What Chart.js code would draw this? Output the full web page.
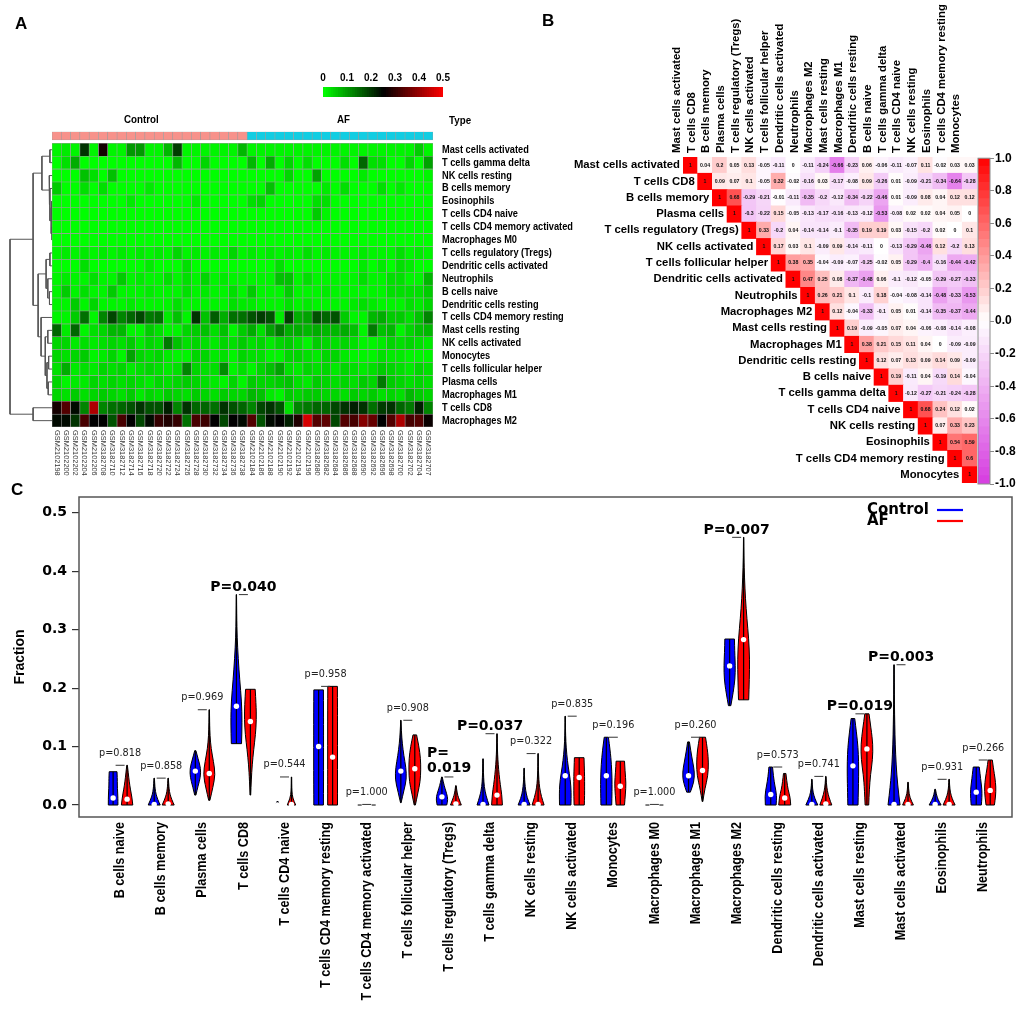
<!DOCTYPE html>
<html><head><meta charset="utf-8">
<script src="https://cdn.jsdelivr.net/npm/chart.js@4.4.0/dist/chart.umd.min.js"></script>
<style>
html,body{margin:0;padding:0;background:#fff;}
#wrap{position:relative;width:1021px;height:1013px;overflow:hidden;background:#fff;}
canvas{position:absolute;}
.lbl{position:absolute;font-weight:bold;color:#000;white-space:nowrap;line-height:1;font-family:'Liberation Sans',Arial,sans-serif;}
.cond{transform:scaleX(0.85);transform-origin:left center;}
</style></head><body>
<div id="wrap">
<canvas id="cDendro" width="60" height="520" style="left:0;top:0"></canvas>
<canvas id="cHeat" width="600" height="520" style="left:0;top:0"></canvas>
<canvas id="cLegA" width="170" height="45" style="left:300px;top:60px"></canvas>
<canvas id="cCorr" width="481" height="500" style="left:540px;top:0"></canvas>
<canvas id="cBar" width="61" height="345" style="left:960px;top:150px"></canvas>
<canvas id="cViolin" width="1021" height="533" style="left:0;top:480px"></canvas>
<div class="lbl" style="left:15px;top:15px;font-size:17px">A</div>
<div class="lbl" style="left:542px;top:12px;font-size:17px">B</div>
<div class="lbl" style="left:11px;top:481px;font-size:17px">C</div>
<div class="lbl cond" style="left:124px;top:114px;font-size:11.5px">Control</div>
<div class="lbl cond" style="left:337px;top:114px;font-size:11.5px">AF</div>
<div class="lbl cond" style="left:449px;top:115px;font-size:11.5px">Type</div>
</div>
<script>
const ARIAL = "'Liberation Sans', Arial, sans-serif";
const VERD = "'DejaVu Sans', Verdana, sans-serif";
const COND = 0.84; // horizontal condensing of the narrow bold labels
Chart.defaults.font.family = ARIAL;
Chart.defaults.color = '#000';

// ---------------- Panel A data ----------------
const controlSamples = ['GSM2102198','GSM2102200','GSM2102202','GSM2102204','GSM2102206','GSM3182708','GSM3182710','GSM3182712','GSM3182714','GSM3182716','GSM3182718','GSM3182720','GSM3182722','GSM3182724','GSM3182726','GSM3182728','GSM3182730','GSM3182732','GSM3182734','GSM3182736','GSM3182738'];
const afSamples = ['GSM2102184','GSM2102186','GSM2102188','GSM2102190','GSM2102192','GSM2102194','GSM2102196','GSM3182680','GSM3182682','GSM3182684','GSM3182686','GSM3182688','GSM3182690','GSM3182692','GSM3182696','GSM3182698','GSM3182700','GSM3182702','GSM3182704','GSM3182707'];
const heatRows = ['Mast cells activated','T cells gamma delta','NK cells resting','B cells memory','Eosinophils','T cells CD4 naive','T cells CD4 memory activated','Macrophages M0','T cells regulatory (Tregs)','Dendritic cells activated','Neutrophils','B cells naive','Dendritic cells resting','T cells CD4 memory resting','Mast cells resting','NK cells activated','Monocytes','T cells follicular helper','Plasma cells','Macrophages M1','T cells CD8','Macrophages M2'];
const legendTicksA = [0, 0.1, 0.2, 0.3, 0.4, 0.5];

const hmMastAct  = [.01,.02,.01,.2,.01,.27,.01,.01,.1,.1, .01,.01,.07,.19,.01,.01,.01,.01,.01,.01, .07,.01,.01,.01,.01,.01,.01,.01,.01,.01, .01,.01,.01,.01,.01,.01,.01,.01,.01,.05, .01];
const hmTgd      = [0,.03,.08,0,0,0,0,0,0,0, 0,0,0,.07,0,0,.04,0,0,0, 0,.07,0,.08,0,.04,0,.03,0,0, 0,.03,0,.15,.03,.03,0,0,.04,0, .09];
const hmNKrest   = [0,0,0,.06,.03,0,.06,0,0,0, 0,0,0,0,0,0,0,0,0,0, 0,0,0,0,0,.04,0,0,.09,0, 0,0,0,.02,0,0,0,0,0,0, .01];
const hmBmem     = [.05,0,0,.03,0,.03,0,0,0,0, .02,0,0,0,0,0,0,0,0,0, 0,0,0,.06,0,0,0,0,0,.02, 0,.03,0,0,0,.03,0,.02,0,0, 0];
const hmEos      = [0,0,0,0,0,0,0,0,.02,0, 0,0,0,0,0,.02,0,0,0,0, 0,.03,.04,0,0,0,0,0,.03,.03, 0,0,0,0,0,0,0,0,0,0, 0];
const hmCD4naive = [0,0,0,0,0,0,0,0,0,0, 0,0,0,0,0,0,0,0,0,0, 0,0,0,0,0,0,0,0,.05,.01, 0,0,0,0,0,0,0,0,0,0, 0];
const hmCD4act   = [0,0,0,0,0,0,0,0,0,0, 0,0,0,0,0,0,0,0,0,0, 0,0,0,0,0,0,0,0,0,0, 0,0,0,0,0,0,0,0,0,0, 0];
const hmM0       = [0,0,0,0,0,0,0,0,0,0, 0,0,0,0,0,0,0,0,0,0, 0,0,0,0,0,0,0,0,0,0, 0,0,0,0,0,0,0,0,0,0, 0];
const hmTreg     = [.01,.02,.01,.02,.01,.02,.01,.02,.01,.02, .01,.02,.01,.04,.01,.02,.01,.02,.01,.04, .01,.02,.01,.02,.01,.02,.01,.03,.01,.02, .01,.01,.01,.02,.01,.01,.01,.03,.01,.02, .01];
const hmDCact    = [0,0,0,.03,0,0,0,0,0,0, .02,0,0,0,.03,0,0,0,0,0, 0,0,0,0,.03,0,0,0,0,0, 0,0,0,.02,0,.02,0,.03,.02,0, 0];
const hmNeut     = [.01,.02,.01,.01,.03,.01,.01,.05,.01,.02, .01,.01,.03,.01,.03,.01,.04,.01,.02,.01, .01,.01,.01,.01,.06,.06,.01,.03,.01,.01, .01,.01,.01,.03,.01,.01,.03,.03,.01,.01, .07];
const hmBnaive   = [.01,.05,.01,.03,.01,.01,.05,.01,.01,.01, .02,.01,.01,.01,.03,.01,.02,.01,.01,.03, .01,.05,.01,.01,.01,.05,.01,.01,.01,.02, .01,.01,.01,.01,.01,.01,.03,.03,.03,.03, .05];
const hmDCrest   = [.01,.01,.05,.01,.04,.01,.01,.01,.02,.01, .01,.01,.01,.03,.01,.01,.01,.01,.01,.03, .02,.02,.01,.01,.01,.03,.01,.02,.01,.01, .01,.01,.02,.03,.02,.01,.01,.01,.03,.02, .04];
const hmCD4mem   = [.01,.01,.05,.14,.01,.12,.18,.12,.15,.18, .13,.14,.02,.06,.01,.2,.06,.16,.08,.14, .14,.17,.19,.17,.02,.19,.08,.09,.17,.15, .17,.05,.01,.01,.07,.08,.05,.05,.03,.06, .12];
const hmMastRest = [.15,.02,.15,.01,.03,.04,.07,.07,.01,.01, .05,.03,.01,.01,.04,.05,.06,.03,.06,.01, .05,.08,.03,.09,.13,.08,.08,.07,.08,.07, .07,.08,.06,.01,.13,.06,.07,.01,.04,.06, .07];
const hmNKact    = [.04,.04,.02,.03,.02,.03,.04,.03,.05,.02, .04,.03,.13,.06,.03,.04,.03,.02,.04,.03, .05,.03,.04,.02,.04,.05,.03,.01,.05,.04, .03,.04,.03,.01,.01,.02,.04,.03,.04,.03, .02];
const hmMono     = [.04,.03,.04,.05,.01,.02,.04,.01,.09,.04, .03,.04,.02,.01,.01,.04,.04,.02,.03,.01, .04,.03,.03,.01,.01,.04,.04,.03,.02,.04, .04,.02,.01,.01,.01,.03,.02,.02,.01,.01, .01];
const hmTfh      = [.03,.08,.02,.03,.02,.04,.03,.04,.02,.03, .04,.03,.02,.03,.12,.04,.03,.03,.11,.01, .03,.01,.04,.06,.09,.03,.02,.04,.03,.04, .02,.04,.03,.02,.03,.05,.04,.03,.02,.04, .03];
const hmPlasma   = [.04,.01,.02,.02,.04,.03,.04,.03,.04,.03, .02,.04,.03,.04,.05,.04,.03,.02,.01,.04, .01,.05,.04,.04,.05,.06,.03,.02,.05,.04, .03,.04,.03,.05,.04,.13,.05,.04,.03,.04, .03];
const hmM1       = [.04,.03,.05,.03,.04,.05,.04,.03,.05,.02, .04,.03,.05,.04,.03,.05,.04,.03,.05,.04, .04,.07,.06,.02,.01,.05,.04,.05,.05,.04, .04,.03,.05,.04,.05,.03,.04,.03,.07,.05, .04];
const hmCD8      = [.27,.33,.24,.12,.42,.12,.14,.15,.17,.2, .17,.17,.22,.12,.2,.15,.15,.14,.2,.17, .15,.12,.18,.2,.17,.03,.12,.13,.15,.15, .18,.2,.22,.2,.14,.19,.2,.15,.13,.22, .12];
const hmM2       = [.24,.24,.2,.32,.25,.25,.17,.32,.25,.18, .24,.3,.28,.3,.14,.32,.31,.25,.18,.25, .24,.33,.17,.24,.25,.22,.28,.46,.33,.34, .18,.33,.32,.38,.35,.25,.33,.42,.32,.33, .26];

// dendrogram merges (hclust style: negative = row index 1-based, positive = merge index; third = height 0..1)
const dendroMerges = [
 [-1,-2,0.05],[-5,-6,0.01],[-7,-8,0.0],[2,3,0.02],[-4,4,0.05],[-3,5,0.07],[1,6,0.24],
 [-9,-10,0.05],[-12,-13,0.06],[-11,9,0.1],[8,10,0.14],
 [-15,-16,0.1],[-17,-18,0.08],[-19,-20,0.09],[13,14,0.12],[12,15,0.16],[-14,16,0.26],
 [11,17,0.33],[7,18,0.45],[-21,-22,0.45],[19,20,1.0]
];

// ---------------- Panel B data ----------------
const corrCells = ['Mast cells activated','T cells CD8','B cells memory','Plasma cells','T cells regulatory (Tregs)','NK cells activated','T cells follicular helper','Dendritic cells activated','Neutrophils','Macrophages M2','Mast cells resting','Macrophages M1','Dendritic cells resting','B cells naive','T cells gamma delta','T cells CD4 naive','NK cells resting','Eosinophils','T cells CD4 memory resting','Monocytes'];
const cMastAct  = [1,0.04,0.2,0.05,0.13,-0.05,-0.11,0,-0.11,-0.24,-0.66,-0.23,0.06,-0.06,-0.11,-0.07,0.11,-0.02,0.03,0.03];
const cCD8      = [1,0.09,0.07,0.1,-0.05,0.32,-0.02,-0.16,0.03,-0.17,-0.08,0.09,-0.26,0.01,-0.09,-0.21,-0.34,-0.64,-0.28];
const cBmem     = [1,0.68,-0.29,-0.21,-0.01,-0.11,-0.35,-0.2,-0.12,-0.34,-0.22,-0.46,0.01,-0.09,0.08,0.04,0.12,0.12];
const cPlasma   = [1,-0.3,-0.22,0.15,-0.05,-0.13,-0.17,-0.16,-0.13,-0.12,-0.53,-0.08,0.02,0.02,0.04,0.05,0];
const cTreg     = [1,0.33,-0.2,0.04,-0.14,-0.14,-0.1,-0.35,0.19,0.19,0.03,-0.15,-0.2,0.02,0,0.1];
const cNKact    = [1,0.17,0.03,0.1,-0.09,0.09,-0.14,-0.11,0,-0.13,-0.29,-0.46,0.12,-0.2,0.13];
const cTfh      = [1,0.38,0.35,-0.04,-0.09,-0.07,-0.25,-0.02,0.05,-0.29,-0.4,-0.16,-0.44,-0.42];
const cDCact    = [1,0.47,0.25,0.08,-0.37,-0.48,0.06,-0.1,-0.12,-0.05,-0.29,-0.27,-0.33];
const cNeut     = [1,0.26,0.21,0.1,-0.1,0.18,-0.04,-0.08,-0.14,-0.48,-0.33,-0.53];
const cM2       = [1,0.12,-0.04,-0.33,-0.1,0.05,0.01,-0.14,-0.35,-0.37,-0.44];
const cMastRest = [1,0.19,-0.09,-0.05,0.07,0.04,-0.06,-0.08,-0.14,-0.08];
const cM1       = [1,0.38,0.21,0.15,0.11,0.04,0,-0.09,-0.09];
const cDCrest   = [1,0.12,0.07,0.13,0.09,0.14,0.09,-0.09];
const cBnaive   = [1,0.19,-0.11,0.04,-0.19,0.14,-0.04];
const cTgd      = [1,-0.12,-0.27,-0.21,-0.24,-0.28];
const cCD4naive = [1,0.68,0.24,0.12,0.02];
const cNKrest   = [1,0.07,0.33,0.23];
const cEos      = [1,0.54,0.59];
const cCD4mem   = [1,0.6];
const cMono     = [1];
const corrBarTicks = [-1,-0.8,-0.6,-0.4,-0.2,0,0.2,0.4,0.6,0.8,1];

// ---------------- Panel C data ----------------
const cells = ['B cells naive','B cells memory','Plasma cells','T cells CD8','T cells CD4 naive','T cells CD4 memory resting','T cells CD4 memory activated','T cells follicular helper','T cells regulatory (Tregs)','T cells gamma delta','NK cells resting','NK cells activated','Monocytes','Macrophages M0','Macrophages M1','Macrophages M2','Dendritic cells resting','Dendritic cells activated','Mast cells resting','Mast cells activated','Eosinophils','Neutrophils'];
const ctrlLo  = [0,0,0.017,0.105,0,0,0,0.004,0,0,0,0,0,0,0.022,0.17,0,0,0,0,0,0];
const ctrlHi  = [0.057,0.046,0.093,0.36,0.006,0.197,0.001,0.145,0.048,0.079,0.063,0.152,0.116,0.001,0.108,0.284,0.065,0.044,0.148,0.24,0.027,0.065];
const ctrlMed = [0.012,0.001,0.058,0.169,0,0.1,0,0.058,0.014,0.001,0.001,0.05,0.05,0,0.05,0.238,0.018,0.001,0.067,0.001,0.001,0.022];
const afLo    = [0,0,0.008,0.017,0,0,0,0,0,0,0,0,0,0,0.006,0.18,0,0,0,0,0,0];
const afHi    = [0.068,0.046,0.163,0.198,0.048,0.203,0.001,0.12,0.033,0.122,0.088,0.081,0.075,0.001,0.116,0.458,0.054,0.049,0.156,0.039,0.044,0.077];
const afMed   = [0.010,0.002,0.054,0.143,0.001,0.082,0,0.062,0.002,0.017,0.001,0.047,0.032,0,0.059,0.283,0.012,0.002,0.096,0.001,0.001,0.025];
const ctrlShape = [
 [0.8,0.8,0.75,0.7,0.7,0.65],[1.0,0.6,0.3,0.15,0.08,0.03],[0.1,0.45,0.85,0.9,0.5,0.1],[0.85,0.95,0.85,0.55,0.3,0.12,0.05,0.02],
 [0.3,0.2,0.1],[0.8,0.82,0.82,0.82,0.82,0.8],[0.3],[0.05,0.5,0.95,0.85,0.5,0.25,0.1,0.02],
 [0.8,1.0,0.8,0.5,0.25,0.05],[1.0,0.5,0.2,0.1,0.05,0.03],[1.0,0.5,0.25,0.12,0.05,0.03],[0.95,1.0,0.85,0.5,0.25,0.1,0.04,0.02],
 [0.9,0.95,0.95,0.85,0.65,0.35],[0.3],[0.3,0.9,1.0,0.7,0.4,0.15],[0.2,0.6,0.9,0.95,0.85,0.8],
 [0.9,1.0,0.7,0.45,0.3],[1.0,0.5,0.2,0.08,0.03],[0.85,0.9,0.95,0.95,0.85,0.6,0.3],[1.0,0.6,0.35,0.2,0.12,0.07,0.04,0.02],
 [1.0,0.5,0.2,0.05],[0.85,0.95,0.95,0.8,0.65,0.5]
];
const afShape = [
 [0.95,0.8,0.55,0.35,0.2,0.05],[1.0,0.6,0.3,0.15,0.08,0.03],[0.1,0.6,1.0,0.7,0.3,0.12,0.05,0.03],[0.05,0.15,0.3,0.55,0.85,1.0,0.95,0.8],
 [0.7,0.2,0.06,0.03,0.02],[0.82,0.82,0.82,0.82,0.82,0.8],[0.3],[0.1,0.5,0.9,1.0,0.95,0.7,0.3],
 [0.9,0.6,0.3,0.15,0.05],[0.9,0.8,0.55,0.35,0.2,0.1,0.05,0.02],[1.0,0.55,0.25,0.12,0.06,0.03,0.02],[0.85,0.9,0.9,0.9,0.85,0.8],
 [0.7,0.85,0.95,0.8,0.7],[0.3],[0.05,0.4,0.9,1.0,0.85,0.5],[0.85,0.95,1.0,0.85,0.55,0.3,0.15,0.05,0.02],
 [1.0,0.9,0.55,0.35,0.2],[1.0,0.55,0.25,0.1,0.03],[0.3,0.4,0.6,0.95,1.0,0.7,0.35],[0.9,0.3,0.1,0.03],
 [1.0,0.5,0.2,0.08,0.03],[0.7,0.9,0.95,0.8,0.55,0.35]
];
const pText = ['p=0.818','p=0.858','p=0.969','P=0.040','p=0.544','p=0.958','p=1.000','p=0.908','P=\n0.019','P=0.037','p=0.322','p=0.835','p=0.196','p=1.000','p=0.260','P=0.007','p=0.573','p=0.741','P=0.019','P=0.003','p=0.931','p=0.266'];
const yTicksC = [0, 0.1, 0.2, 0.3, 0.4, 0.5];

// ---------------- helpers ----------------
function rampA(v){
  const t = Math.max(0, Math.min(1, v / 0.5));
  if (t <= 0.5) return `rgb(0,${Math.round(255*(1-2*t))},0)`;
  return `rgb(${Math.round(255*(2*t-1))},0,0)`;
}
function rampB(v){
  if (v >= 0) { const g = Math.round(255*(1-v)); return `rgb(255,${g},${g})`; }
  const a = -v;
  return `rgb(${Math.round(255-41*a)},${Math.round(255-195*a)},${Math.round(255-31*a)})`;
}
function condText(ctx, text, x, y, rot) {
  ctx.save(); ctx.translate(x, y); if (rot) ctx.rotate(rot); ctx.scale(COND, 1); ctx.fillText(text, 0, 0); ctx.restore();
}
const noTip = {legend:{display:false}, tooltip:{enabled:false}};

// ---------------- Panel A: heatmap ----------------
const samples = controlSamples.concat(afSamples);
const heatVals = [hmMastAct,hmTgd,hmNKrest,hmBmem,hmEos,hmCD4naive,hmCD4act,hmM0,hmTreg,hmDCact,hmNeut,hmBnaive,hmDCrest,hmCD4mem,hmMastRest,hmNKact,hmMono,hmTfh,hmPlasma,hmM1,hmCD8,hmM2];
const NROW = heatRows.length;
const GAP = 0.26, TYPEH = 0.64;
const heatDatasets = [];
for (let r = NROW - 1; r >= 0; r--) {
  heatDatasets.push({data: samples.map(() => 1), backgroundColor: heatVals[r].map(rampA),
    borderColor: '#9c9c9c', borderWidth: 0.6, borderSkipped: false, barPercentage: 1, categoryPercentage: 1, stack: 's'});
}
heatDatasets.push({data: samples.map(() => GAP), backgroundColor: 'rgba(0,0,0,0)', borderWidth: 0, barPercentage: 1, categoryPercentage: 1, stack: 's'});
heatDatasets.push({data: samples.map(() => TYPEH), backgroundColor: samples.map(s => controlSamples.includes(s) ? '#F7928B' : '#12CDE2'),
  borderColor: '#9c9c9c', borderWidth: 0.6, borderSkipped: false, barPercentage: 1, categoryPercentage: 1, stack: 's'});

const heatLabelPlugin = {
  id: 'heatLabels',
  afterDraw(chart) {
    const {ctx, chartArea} = chart; const xs = chart.scales.x, ys = chart.scales.y;
    ctx.save();
    ctx.font = '7.4px ' + ARIAL; ctx.fillStyle = '#333'; ctx.textAlign = 'left'; ctx.textBaseline = 'middle';
    samples.forEach((s, i) => {
      ctx.save(); ctx.translate(xs.getPixelForValue(i), chartArea.bottom + 3); ctx.rotate(Math.PI / 2);
      ctx.fillText(s, 0, 0); ctx.restore();
    });
    ctx.font = 'bold 11px ' + ARIAL; ctx.fillStyle = '#000';
    heatRows.forEach((n, i) => condText(ctx, n, chartArea.right + 9, ys.getPixelForValue(NROW - 0.5 - i), 0));
    ctx.restore();
  }
};
new Chart(document.getElementById('cHeat'), {
  type: 'bar',
  data: {labels: samples, datasets: heatDatasets},
  options: {
    responsive: false, animation: false, plugins: noTip,
    layout: {padding: {left: 52, top: 131.7, right: 167, bottom: 92.9}},
    scales: {
      x: {stacked: true, display: false},
      y: {stacked: true, min: 0, max: NROW + GAP + TYPEH, display: false}
    }
  },
  plugins: [heatLabelPlugin]
});

// dendrogram
(function(){
  const pos = {};
  const nodeY = (n) => n < 0 ? (NROW - 0.5 - (-n - 1)) : pos[n].y;
  const nodeH = (n) => n < 0 ? 0 : pos[n].h;
  const ds = [];
  dendroMerges.forEach((m, k) => {
    const [a, b, h] = m;
    const ya = nodeY(a), yb = nodeY(b);
    pos[k + 1] = {y: (ya + yb) / 2, h: h};
    ds.push({data: [{x: nodeH(a), y: ya}, {x: h, y: ya}, {x: h, y: yb}, {x: nodeH(b), y: yb}],
      showLine: true, borderColor: '#555', borderWidth: 1, pointRadius: 0, fill: false, tension: 0});
  });
  new Chart(document.getElementById('cDendro'), {
    type: 'scatter', data: {datasets: ds},
    options: {responsive: false, animation: false, plugins: noTip,
      layout: {padding: {left: 10, right: 8, top: 131.7, bottom: 92.9}},
      scales: {x: {type: 'linear', min: 0, max: 1, reverse: true, display: false},
               y: {type: 'linear', min: 0, max: NROW + GAP + TYPEH, display: false}},
      clip: false}
  });
})();

// legend colour bar A
(function(){
  const ds = [];
  const N = 50;
  for (let k = 0; k < N; k++) {
    const lo = 0.5 * k / N, hi = 0.5 * (k + 1) / N;
    ds.push({data: [[lo, hi]], backgroundColor: rampA((lo + hi) / 2), borderWidth: 0, grouped: false,
      barPercentage: 1, categoryPercentage: 1, inflateAmount: 0.6});
  }
  new Chart(document.getElementById('cLegA'), {
    type: 'bar', data: {labels: ['v'], datasets: ds},
    options: {indexAxis: 'y', responsive: false, animation: false, plugins: noTip,
      layout: {padding: {left: 23, right: 27, bottom: 8, top: 0}},
      scales: {
        x: {type: 'linear', position: 'top', min: 0, max: 0.5,
          afterBuildTicks(s) { s.ticks = legendTicksA.map(v => ({value: v})); },
          afterFit(s) { s.height = 27; },
          grid: {display: false, drawTicks: false}, border: {display: false},
          ticks: {padding: 3, color: '#000', font: {family: ARIAL, weight: 'bold', size: 10}, callback: v => String(v)}},
        y: {display: false}
      }}
  });
})();

// ---------------- Panel B: correlation ----------------
const corrVals = [cMastAct,cCD8,cBmem,cPlasma,cTreg,cNKact,cTfh,cDCact,cNeut,cM2,cMastRest,cM1,cDCrest,cBnaive,cTgd,cCD4naive,cNKrest,cEos,cCD4mem,cMono];
const NC = corrCells.length;
const corrDatasets = [];
for (let r = NC - 1; r >= 0; r--) {
  corrDatasets.push({data: corrCells.map(() => 1),
    backgroundColor: corrCells.map((c, ci) => ci >= r ? rampB(corrVals[r][ci - r]) : 'rgba(0,0,0,0)'),
    borderWidth: 0, barPercentage: 1, categoryPercentage: 1, stack: 's', inflateAmount: 0.4});
}
const corrTextPlugin = {
  id: 'corrText',
  afterDatasetsDraw(chart) {
    const {ctx} = chart; const xs = chart.scales.x, ys = chart.scales.y;
    const half = (xs.getPixelForValue(1) - xs.getPixelForValue(0)) / 2;
    ctx.save();
    ctx.textAlign = 'center'; ctx.textBaseline = 'middle'; ctx.fillStyle = '#111';
    ctx.font = 'bold 5.2px ' + ARIAL;
    for (let r = 0; r < NC; r++) {
      const py = ys.getPixelForValue(NC - 0.5 - r);
      for (let c = r; c < NC; c++) ctx.fillText(String(corrVals[r][c - r]), xs.getPixelForValue(c), py);
    }
    ctx.textAlign = 'right'; ctx.fillStyle = '#000'; ctx.font = 'bold 11.3px ' + ARIAL;
    for (let r = 0; r < NC; r++) {
      ctx.fillText(corrCells[r], xs.getPixelForValue(r) - half - 3, ys.getPixelForValue(NC - 0.5 - r));
    }
    ctx.restore();
  }
};
new Chart(document.getElementById('cCorr'), {
  type: 'bar', data: {labels: corrCells, datasets: corrDatasets},
  options: {responsive: false, animation: false, plugins: noTip,
    layout: {padding: {left: 143, right: 44, top: 0, bottom: 17}},
    scales: {
      x: {stacked: true, position: 'top', grid: {display: false, drawTicks: false}, border: {display: false},
        afterFit(s) { s.height = 157; },
        ticks: {autoSkip: false, minRotation: 90, maxRotation: 90, padding: 4, color: '#000',
          font: {family: ARIAL, weight: 'bold', size: 11.3}}},
      y: {stacked: true, min: 0, max: NC, display: false}
    }},
  plugins: [corrTextPlugin]
});

// colour bar B
(function(){
  const ds = []; const N = 40;
  for (let k = 0; k < N; k++) {
    const lo = -1 + 2 * k / N, hi = -1 + 2 * (k + 1) / N;
    ds.push({data: [[lo, hi]], backgroundColor: rampB((lo + hi) / 2), borderWidth: 0, grouped: false,
      barPercentage: 1, categoryPercentage: 1, inflateAmount: 0.6});
  }
  const framePlugin = {id: 'frameB', afterDatasetsDraw(chart) {
    const {ctx, chartArea: a} = chart; ctx.save(); ctx.strokeStyle = '#8a8a8a'; ctx.lineWidth = 1;
    ctx.strokeRect(a.left, a.top, a.right - a.left, a.bottom - a.top); ctx.restore(); }};
  new Chart(document.getElementById('cBar'), {
    type: 'bar', data: {labels: ['r'], datasets: ds},
    options: {responsive: false, animation: false, plugins: noTip,
      layout: {padding: {left: 18, top: 7, bottom: 11, right: 0}},
      scales: {
        x: {display: false},
        y: {type: 'linear', min: -1, max: 1, position: 'right',
          afterBuildTicks(s) { s.ticks = corrBarTicks.map(v => ({value: v})); },
          afterFit(s) { s.width = 31; },
          grid: {drawOnChartArea: false, tickLength: 4, color: '#888'}, border: {display: false},
          ticks: {padding: 1, color: '#000', font: {family: ARIAL, weight: 'bold', size: 12},
            callback: v => (Math.abs(v) < 1e-9 ? 0 : v).toFixed(1)}}
      }},
    plugins: [framePlugin]
  });
})();

// ---------------- Panel C: violins ----------------
const OFF = 0.17, MAXW = 12;
function smoothSide(ctx, P) {
  for (let k = 1; k < P.length - 1; k++) {
    const mx = (P[k][0] + P[k + 1][0]) / 2, my = (P[k][1] + P[k + 1][1]) / 2;
    ctx.quadraticCurveTo(P[k][0], P[k][1], mx, my);
  }
  ctx.lineTo(P[P.length - 1][0], P[P.length - 1][1]);
}
function drawViolin(ctx, ys, cx, lo, hi, shape, fill) {
  const yLo = ys.getPixelForValue(lo), yHi = ys.getPixelForValue(hi);
  ctx.strokeStyle = '#000'; ctx.lineWidth = 1;
  if (yLo - yHi < 1.5) {
    ctx.beginPath(); ctx.moveTo(cx - 2, yLo); ctx.lineTo(cx + 2, yLo); ctx.stroke(); return;
  }
  const n = shape.length;
  const pts = shape.map((w, k) => ({y: yLo + (yHi - yLo) * (n === 1 ? 0 : k / (n - 1)), h: w * MAXW / 2}));
  ctx.beginPath();
  ctx.moveTo(cx + pts[0].h, pts[0].y);
  ctx.lineTo(cx - pts[0].h, pts[0].y);
  smoothSide(ctx, pts.map(p => [cx - p.h, p.y]));
  ctx.lineTo(cx + pts[n - 1].h, pts[n - 1].y);
  smoothSide(ctx, pts.slice().reverse().map(p => [cx + p.h, p.y]));
  ctx.closePath();
  ctx.fillStyle = fill; ctx.fill(); ctx.stroke();
  ctx.beginPath(); ctx.moveTo(cx, yLo); ctx.lineTo(cx, yHi); ctx.lineWidth = 1.2; ctx.stroke();
}
const violinPlugin = {
  id: 'violins',
  beforeDatasetsDraw(chart) {
    const {ctx} = chart; const xs = chart.scales.x, ys = chart.scales.y;
    ctx.save();
    cells.forEach((c, i) => {
      drawViolin(ctx, ys, xs.getPixelForValue(i + 1 - OFF), ctrlLo[i], ctrlHi[i], ctrlShape[i], '#0000FF');
      drawViolin(ctx, ys, xs.getPixelForValue(i + 1 + OFF), afLo[i], afHi[i], afShape[i], '#FF0000');
    });
    ctx.restore();
  },
  afterDatasetsDraw(chart) {
    const {ctx, chartArea: a} = chart; const xs = chart.scales.x, ys = chart.scales.y;
    ctx.save();
    cells.forEach((c, i) => {
      const cx = xs.getPixelForValue(i + 1);
      const yTop = ys.getPixelForValue(Math.max(ctrlHi[i], afHi[i]));
      ctx.strokeStyle = '#333'; ctx.lineWidth = 1;
      ctx.beginPath(); ctx.moveTo(cx - 4.5, yTop); ctx.lineTo(cx + 4.5, yTop); ctx.stroke();
      const t = pText[i];
      ctx.fillStyle = '#000'; ctx.textBaseline = 'middle';
      if (t.includes('\n')) {
        const lines = t.split('\n');
        ctx.font = 'bold 14px ' + VERD; ctx.textAlign = 'left';
        ctx.fillText(lines[0], cx - 22, yTop - 24);
        ctx.fillText(lines[1], cx - 22, yTop - 9);
      } else if (t[0] === 'P') {
        ctx.font = 'bold 14px ' + VERD; ctx.textAlign = 'center';
        ctx.fillText(t, cx, yTop - 7);
      } else {
        ctx.font = '9.7px ' + VERD; ctx.textAlign = 'center'; ctx.fillStyle = '#222';
        ctx.fillText(t, cx, yTop - 12);
      }
    });
    // legend
    const lx = a.right - 145, lineX0 = a.right - 75, lineX1 = a.right - 49;
    ctx.font = 'bold 15px ' + VERD; ctx.textAlign = 'left'; ctx.textBaseline = 'middle'; ctx.fillStyle = '#000';
    ctx.fillText('Control', lx, a.top + 13);
    ctx.fillText('AF', lx, a.top + 24);
    ctx.lineWidth = 2.2;
    ctx.strokeStyle = '#0000FF'; ctx.beginPath(); ctx.moveTo(lineX0, a.top + 13); ctx.lineTo(lineX1, a.top + 13); ctx.stroke();
    ctx.strokeStyle = '#FF0000'; ctx.beginPath(); ctx.moveTo(lineX0, a.top + 24); ctx.lineTo(lineX1, a.top + 24); ctx.stroke();
    ctx.restore();
  },
  afterDraw(chart) {
    const {ctx, chartArea: a} = chart; const xs = chart.scales.x;
    ctx.save(); ctx.strokeStyle = '#555'; ctx.lineWidth = 1.5;
    ctx.strokeRect(a.left, a.top, a.right - a.left, a.bottom - a.top);
    ctx.font = 'bold 15px ' + ARIAL; ctx.fillStyle = '#000'; ctx.textAlign = 'right'; ctx.textBaseline = 'middle';
    cells.forEach((c, i) => condText(ctx, c, xs.getPixelForValue(i + 1), a.bottom + 5, -Math.PI / 2));
    ctx.restore();
  }
};
const dotRadius = (lo, hi) => (ctx) => (hi[ctx.dataIndex] - lo[ctx.dataIndex] > 0.003 ? 2.7 : 0);
new Chart(document.getElementById('cViolin'), {
  type: 'scatter',
  data: {datasets: [
    {label: 'Control', data: cells.map((c, i) => ({x: i + 1 - OFF, y: ctrlMed[i]})), pointRadius: dotRadius(ctrlLo, ctrlHi),
      pointBackgroundColor: '#fff', pointBorderWidth: 0},
    {label: 'AF', data: cells.map((c, i) => ({x: i + 1 + OFF, y: afMed[i]})), pointRadius: dotRadius(afLo, afHi),
      pointBackgroundColor: '#fff', pointBorderWidth: 0}
  ]},
  options: {responsive: false, animation: false, plugins: noTip,
    layout: {padding: {left: 0, right: 9, top: 17, bottom: 0}},
    scales: {
      x: {type: 'linear', min: 0, max: 22.7,
        afterBuildTicks(s) { s.ticks = cells.map((c, i) => ({value: i + 1})); },
        afterFit(s) { s.height = 196; },
        grid: {display: false, drawTicks: false}, border: {display: false},
        ticks: {display: false}},
      y: {type: 'linear', min: -0.0205, max: 0.527,
        afterBuildTicks(s) { s.ticks = yTicksC.map(v => ({value: v})); },
        afterFit(s) { s.width = 79; },
        grid: {drawOnChartArea: false, tickLength: 7, color: '#333', lineWidth: 1.2}, border: {display: false},
        title: {display: true, text: 'Fraction', color: '#000', font: {family: ARIAL, weight: 'bold', size: 14}, padding: {top: 12, bottom: 0}},
        ticks: {padding: 5, color: '#000', font: {family: VERD, weight: 'bold', size: 14}, callback: v => v.toFixed(1)}}
    }},
  plugins: [violinPlugin]
});
</script>
</body></html>
